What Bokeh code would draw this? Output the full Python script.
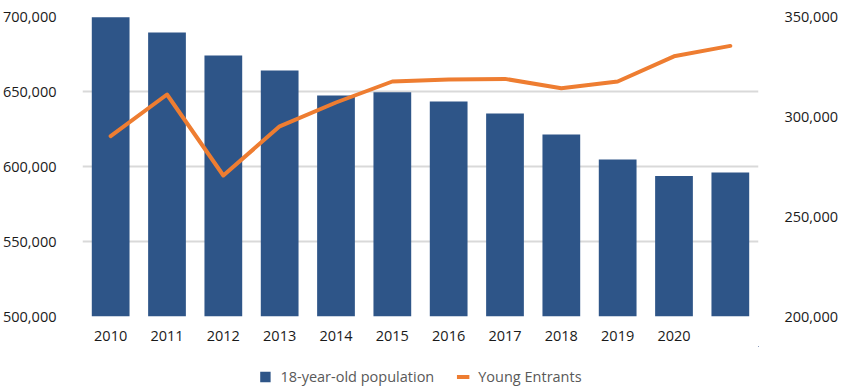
from bokeh.plotting import figure
from bokeh.models import (Range1d, LinearAxis, FixedTicker, NumeralTickFormatter,
                          Legend, LegendItem)
from bokeh.layouts import column
from bokeh.embed import file_html
from bokeh.resources import INLINE

years = [2010, 2011, 2012, 2013, 2014, 2015, 2016, 2017, 2018, 2019, 2020, 2021]
tick_labels = ["2010", "2011", "2012", "2013", "2014", "2015", "2016", "2017",
               "2018", "2019", "2020", ""]
population_18 = [699500, 689300, 674000, 664000, 647300, 649500, 643300, 635300,
                 621300, 604700, 593600, 596000]
young_entrants = [290200, 311000, 270500, 295100, 307000, 317500, 318500, 318800,
                  314100, 317500, 330100, 335300]
series_names = ["18-year-old population", "Young Entrants"]

BAR_COLOR = "#2E5588"
LINE_COLOR = "#EE7D31"
xs = list(range(len(years)))
FONT = "Open Sans"

p = figure(width=841, height=346, output_backend="svg", toolbar_location=None,
           x_range=Range1d(-0.5, len(years) - 0.5),
           y_range=Range1d(500000, 700000),
           min_border_left=80, min_border_right=83, min_border_top=16,
           min_border_bottom=30)
p.outline_line_color = None
p.background_fill_color = "white"
p.border_fill_color = "white"

p.extra_y_ranges = {"right": Range1d(200000, 350000)}

bars = p.vbar(x=xs, top=population_18, bottom=500000, width=0.67,
              color=BAR_COLOR, line_color=None)
line = p.line(x=xs, y=young_entrants, y_range_name="right", line_color=LINE_COLOR,
              line_width=4, line_join="round", line_cap="round")

# grid
p.xgrid.grid_line_color = None
p.ygrid.grid_line_color = "#D9D9D9"
p.ygrid.grid_line_width = 2
p.yaxis.ticker = FixedTicker(ticks=[500000, 550000, 600000, 650000, 700000])

# left axis
yl = p.yaxis[0]
yl.formatter = NumeralTickFormatter(format="0,0")
yl.axis_line_color = None
yl.major_tick_line_color = None
yl.minor_tick_line_color = None
yl.major_label_standoff = 20
yl.major_label_text_font = FONT
yl.major_label_text_font_size = "14.5px"
yl.major_label_text_color = "#1A1A1A"

# right axis
yr = LinearAxis(y_range_name="right",
                ticker=FixedTicker(ticks=[200000, 250000, 300000, 350000]),
                formatter=NumeralTickFormatter(format="0,0"))
yr.axis_line_color = None
yr.major_tick_line_color = None
yr.minor_tick_line_color = None
yr.major_label_standoff = 20
yr.major_label_text_font = FONT
yr.major_label_text_font_size = "14.5px"
yr.major_label_text_color = "#1A1A1A"
p.add_layout(yr, "right")

# x axis
xa = p.xaxis[0]
xa.ticker = FixedTicker(ticks=xs)
xa.major_label_overrides = {i: t for i, t in zip(xs, tick_labels)}
xa.axis_line_color = None
xa.major_tick_line_color = None
xa.minor_tick_line_color = None
xa.major_label_standoff = 8
xa.major_label_text_font = FONT
xa.major_label_text_font_size = "14.5px"
xa.major_label_text_color = "#1A1A1A"

# legend strip: proxy renderers share the main series' data but sit outside
# this strip's visible ranges, so only their legend swatches show
p2 = figure(width=841, height=40, output_backend="svg", toolbar_location=None,
            x_range=Range1d(-1000, -999), y_range=Range1d(-1000, -999),
            min_border_left=0, min_border_right=0, min_border_top=0,
            min_border_bottom=0)
p2.axis.visible = False
p2.grid.visible = False
p2.outline_line_color = None
p2.border_fill_color = "white"
lb = p2.vbar(x=xs, top=population_18, bottom=500000, width=0.67,
             color=BAR_COLOR, line_color=None)
ll = p2.line(x=xs, y=young_entrants, line_color=LINE_COLOR, line_width=4)

legend = Legend(items=[LegendItem(label=series_names[0], renderers=[lb]),
                       LegendItem(label=series_names[1], renderers=[ll])],
                orientation="horizontal", location="bottom_center",
                glyph_width=13, glyph_height=13, label_standoff=9, spacing=22,
                padding=0, margin=0, border_line_color=None,
                background_fill_alpha=0, label_text_font=FONT,
                label_text_font_size="14.5px", label_text_color="#595959")
p2.add_layout(legend, "center")

open("out.html", "w").write(file_html(column(p, p2, spacing=0), INLINE))
